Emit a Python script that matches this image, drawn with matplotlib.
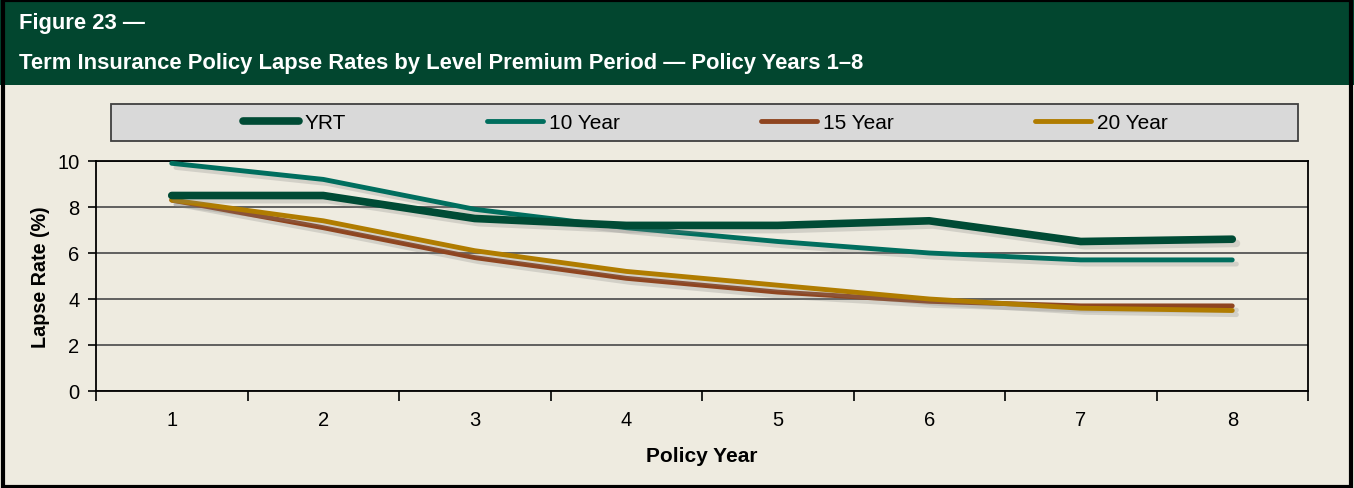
import matplotlib.pyplot as plt
import matplotlib.patheffects as pe
from matplotlib.patches import Rectangle

# data
years = [1, 2, 3, 4, 5, 6, 7, 8]
yrt = [8.5, 8.5, 7.5, 7.2, 7.2, 7.4, 6.5, 6.6]
ten_year = [9.9, 9.2, 7.9, 7.1, 6.5, 6.0, 5.7, 5.7]
fifteen_year = [8.3, 7.1, 5.8, 4.9, 4.3, 3.9, 3.7, 3.7]
twenty_year = [8.3, 7.4, 6.1, 5.2, 4.6, 4.0, 3.6, 3.5]
series_names = ['YRT', '10 Year', '15 Year', '20 Year']

plt.rcParams['font.family'] = ['Liberation Sans', 'DejaVu Sans']

bg = '#eeebe0'
header = '#02462f'
W, H = 1354, 489

fig = plt.figure(figsize=(W / 100, H / 100), dpi=100, facecolor=bg)

# header band and border
fig.patches.append(Rectangle((0, 1 - 86 / H), 1, 86 / H, transform=fig.transFigure,
                             facecolor=header, edgecolor='none', zorder=0))
fig.patches.append(Rectangle((0.002, 0.002), 0.996, 0.996, transform=fig.transFigure,
                             facecolor='none', edgecolor='black', lw=3, zorder=5))
fig.text(19 / W, 1 - 23 / H, 'Figure 23 \u2014', color='white', fontsize=15.8,
         fontweight='bold', va='center', ha='left')
fig.text(19 / W, 1 - 64 / H,
         'Term Insurance Policy Lapse Rates by Level Premium Period \u2014 Policy Years 1\u20138',
         color='white', fontsize=15.8, fontweight='bold', va='center', ha='left')

# legend box
fig.patches.append(Rectangle((111 / W, 1 - 142 / H), (1298 - 111) / W, 37 / H,
                             transform=fig.transFigure, facecolor='#d9d9d9',
                             edgecolor='#404040', lw=1.3, zorder=1))

ax = fig.add_axes([96 / W, 1 - 392 / H, (1308 - 96) / W, (392 - 162) / H])
ax.set_facecolor(bg)

shadow = [pe.SimpleLineShadow(offset=(3, -3), shadow_color='gray', alpha=0.25), pe.Normal()]
l1, = ax.plot(years, yrt, color='#004b35', lw=5.5, solid_capstyle='round', path_effects=shadow, zorder=4)
l2, = ax.plot(years, ten_year, color='#006e5e', lw=3.5, solid_capstyle='round', path_effects=shadow, zorder=3)
l3, = ax.plot(years, fifteen_year, color='#8f4520', lw=3.5, solid_capstyle='round', path_effects=shadow, zorder=3)
l4, = ax.plot(years, twenty_year, color='#b07c00', lw=3.5, solid_capstyle='round', path_effects=shadow, zorder=3)

ax.set_xlim(0.5, 8.5)
ax.set_ylim(0, 10)
ax.set_yticks([0, 2, 4, 6, 8, 10])
ax.yaxis.grid(True, color='#555555', lw=1.3)
ax.set_axisbelow(True)
ax.set_xticks(years)
ax.set_xticks([x + 0.5 for x in range(0, 9)], minor=True)
ax.tick_params(axis='x', which='major', length=0, pad=14, labelsize=14.5)
ax.tick_params(axis='x', which='minor', length=7, width=1.2, direction='out')
ax.tick_params(axis='y', length=6, width=1.2, pad=6, labelsize=14.5)
for s in ax.spines.values():
    s.set_linewidth(1.3)
    s.set_color('black')
ax.set_ylabel('Lapse Rate (%)', fontsize=14.2, fontweight='bold', labelpad=5)
ax.set_xlabel('Policy Year', fontsize=15, fontweight='bold', labelpad=12)

leg = fig.legend([l1, l2, l3, l4], series_names, loc='center',
                 bbox_to_anchor=(705 / W, 1 - 124 / H), ncol=4, frameon=False,
                 fontsize=15, handlelength=2.7, handletextpad=0.25, columnspacing=6.8)
leg.set_zorder(6)
for h in leg.legend_handles:
    h.set_path_effects([])

fig.savefig('out.png', dpi=100, facecolor=bg)
